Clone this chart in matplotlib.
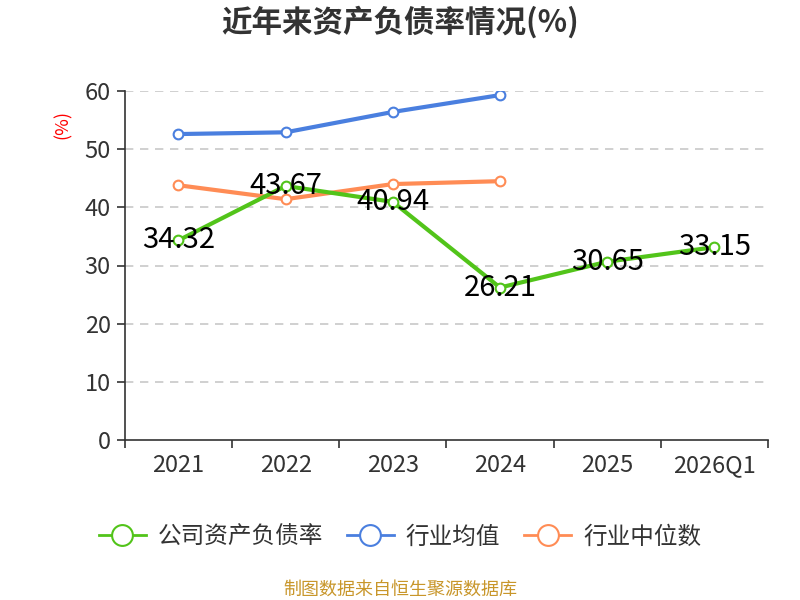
import numpy as np
import matplotlib
matplotlib.use("Agg")
from matplotlib import pyplot as plt

plt.rcParams['font.family'] = ['Noto Sans CJK SC', 'DejaVu Sans']

years = ['2021', '2022', '2023', '2024', '2025', '2026Q1']
company = [34.32, 43.67, 40.94, 26.21, 30.65, 33.15]
industry_avg = [52.6, 52.9, 56.4, 59.3]
industry_median = [43.8, 41.4, 44.0, 44.5]

green = '#52c41a'
blue = '#4a7fdf'
orange = '#ff8c55'

fig = plt.figure(figsize=(8, 6), dpi=100)
ax = fig.add_axes([0.156, 0.2667, 0.804, 0.5816])

x = np.arange(len(years))
mk = dict(marker='o', markersize=7, markerfacecolor='white', markeredgewidth=1.5)
ax.plot(x[:4], industry_avg, color=blue, lw=3, label='行业均值', zorder=3, **mk)
ax.plot(x[:4], industry_median, color=orange, lw=3, label='行业中位数', zorder=3, **mk)
ax.plot(x, company, color=green, lw=3, label='公司资产负债率', zorder=4, **mk)

for xi, v in zip(x, company):
    ax.text(xi, v, f'{v:.2f}', ha='center', va='center', fontsize=21, color='black', zorder=5)

ax.set_xlim(-0.5, len(years) - 0.5)
ax.set_ylim(0, 60)
ax.set_yticks(range(0, 61, 10))
ax.set_xticks(x)
ax.set_xticklabels(years)
ax.set_xticks(np.arange(-0.5, len(years), 1), minor=True)
ax.tick_params(axis='x', which='major', length=0, labelsize=17, colors='#333333', pad=10)
ax.tick_params(axis='x', which='minor', length=6, width=1.2, color='#333333')
ax.tick_params(axis='y', length=6, width=1.2, labelsize=17, colors='#333333', pad=4)
for s in ['top', 'right']:
    ax.spines[s].set_visible(False)
for s in ['left', 'bottom']:
    ax.spines[s].set_color('#333333')
    ax.spines[s].set_linewidth(1.2)
for yv in range(10, 61, 10):
    ax.axhline(yv, color='#c8c8c8', lw=1.2, ls=(0, (5, 4)), zorder=1)

fig.text(0.078, 0.792, '(%)', color='red', fontsize=13, rotation=90, ha='center', va='center')
fig.text(0.5, 0.962, '近年来资产负债率情况(%)', fontsize=22, fontweight='bold', ha='center', va='center', color='#333333')

handles, labels = ax.get_legend_handles_labels()
order = [2, 0, 1]
leg = fig.legend([handles[i] for i in order], [labels[i] for i in order],
                 loc='center', bbox_to_anchor=(0.5, 0.105), ncol=3, frameon=False,
                 fontsize=17, handlelength=2.0, columnspacing=1.0, handletextpad=0.5)
for h in leg.legend_handles:
    h.set_linewidth(2)
    h.set_markersize(15)
for t in leg.get_texts():
    t.set_color('#333333')

fig.text(0.5, 0.018, '制图数据来自恒生聚源数据库', fontsize=13, color='#c8962a', ha='center', va='center')

fig.savefig('out.png', dpi=100)
